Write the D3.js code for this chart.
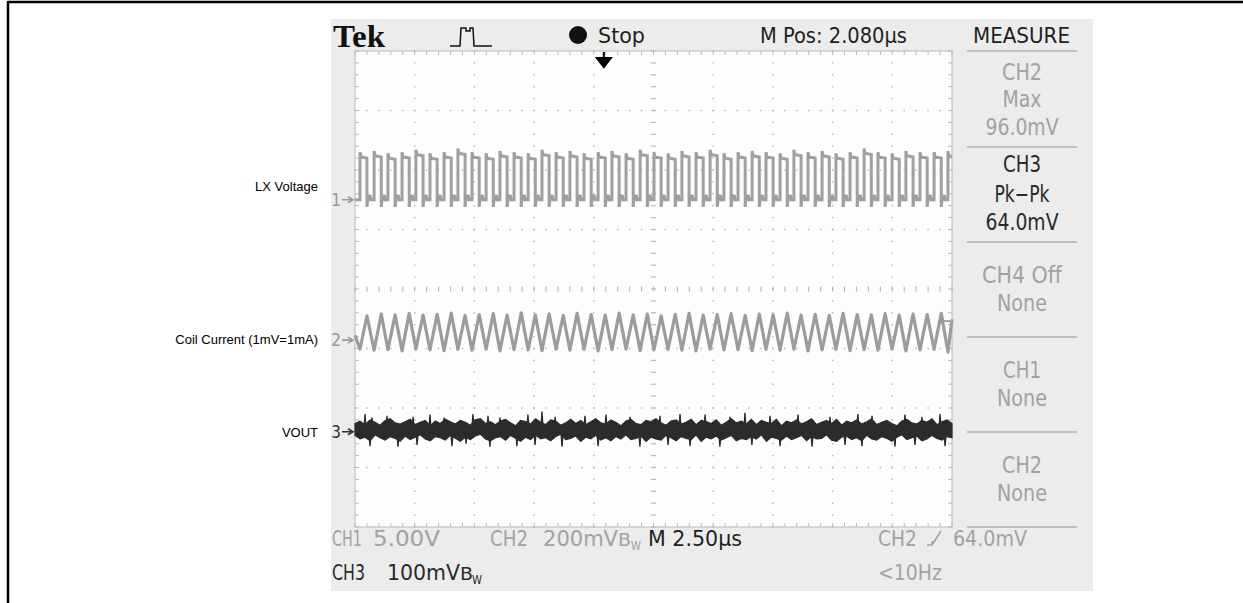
<!DOCTYPE html>
<html><head><meta charset="utf-8">
<script src="https://cdn.jsdelivr.net/npm/d3@7"></script>
<style>
html,body{margin:0;padding:0;background:#fff;}
svg{display:block;}
</style></head><body>
<svg id="c" width="1243" height="603"></svg>
<script>
// ---------------- data ----------------
const timeDomain = [0, 25];          // µs : 10 div × 2.50 µs
const divDomain = [-4, 4];           // vertical divisions
const timePerDiv = 2.5;              // µs
const mPos = 2.080;                  // µs
const channelNames = ["CH1", "CH2", "CH3"];
const channelScale = [5.0, 200, 100];      // V/div, mV/div, mV/div
const channelOffset = [1.5, -0.86, -2.4];  // div
const channelLabels = ["LX Voltage", "Coil Current (1mV=1mA)", "VOUT"];
const triggerLevel = 64.0;           // mV on CH2

// CH1 LX voltage: switching edges (µs) and plateau levels (V)
const lxRising = [0.21,0.80,1.38,1.97,2.55,3.14,3.73,4.31,4.90,5.49,6.07,6.66,7.25,7.83,8.42,9.00,9.59,10.18,10.76,11.35,11.94,12.52,13.11,13.69,14.28,14.87,15.45,16.04,16.63,17.21,17.80,18.38,18.97,19.56,20.14,20.73,21.32,21.90,22.49,23.07,23.66,24.25,24.83];
const lxFalling = [0.50,1.10,1.68,2.27,2.85,3.44,4.03,4.61,5.20,5.79,6.37,6.96,7.55,8.13,8.72,9.30,9.89,10.48,11.06,11.65,12.24,12.82,13.41,13.99,14.58,15.17,15.75,16.34,16.93,17.51,18.10,18.68,19.27,19.86,20.44,21.03,21.62,22.20,22.79,23.37,23.96,24.55,25.0];
const lxHigh = [3.6,3.7,3.5,3.6,3.8,3.5,3.6,3.9,3.6,3.5,3.7,3.6,3.5,3.8,3.6,3.7,3.5,3.6,3.7,3.5,3.8,3.6,3.5,3.7,3.6,3.8,3.5,3.6,3.7,3.6,3.5,3.8,3.6,3.7,3.5,3.6,3.9,3.6,3.5,3.7,3.6,3.6,3.7];
const lxLow = 0.0;
const lxOvershoot = 0.4;   // V above plateau
const lxUndershoot = -0.6; // V

// CH2 coil current: valleys at LX rising edges, peaks at LX falling edges (mV)
const coilValley = [-30,-34,-32,-36,-30,-33,-35,-31,-34,-30,-36,-32,-33,-35,-30,-34,-31,-36,-32,-30,-35,-33,-31,-34,-36,-30,-33,-32,-35,-31,-34,-30,-36,-33,-31,-35,-32,-34,-30,-36,-33,-31,-40];
const coilPeak = [82,88,85,90,84,87,91,83,86,89,84,92,85,88,83,90,86,84,91,85,88,82,87,90,84,86,89,83,88,85,91,84,87,83,90,86,85,89,84,88,86,90,70];

// CH3 VOUT ripple: core band upper / lower edge (mV), one value per ~0.21 µs
const voutCoreHi = [14,18,12,20,16,11,19,22,15,13, 17,21,12,16,19,10,18,14,21,17, 13,19,16,11,20,22,14,17,12,18, 21,15,10,19,17,13,22,16,12,20, 18,11,15,21,14,19,12,17,22,15, 13,20,16,10,18,21,14,12,19,17, 22,15,11,18,20,13,16,21,12,19, 17,14,20,11,16,22,15,18,13,21, 12,19,16,14,21,10,18,15,20,13, 17,22,12,16,19,14,21,11,18,15, 20,13,17,22,12,16,19,14,10,18, 21,15,13,19,16,22,12,17,20,14];
const voutCoreLo = [-6,-12,-9,-15,-5,-10,-14,-8,-11,-16, -7,-13,-9,-5,-12,-15,-8,-10,-14,-6, -11,-16,-9,-13,-7,-4,-12,-15,-10,-8, -14,-6,-11,-16,-9,-13,-5,-12,-10,-15, -8,-4,-13,-11,-7,-16,-9,-12,-6,-14, -10,-15,-8,-12,-5,-13,-11,-7,-16,-9, -12,-14,-6,-10,-15,-8,-11,-13,-5,-16, -9,-12,-7,-14,-10,-6,-15,-11,-13,-8, -12,-5,-16,-9,-11,-14,-7,-13,-10,-6, -15,-8,-12,-11,-5,-14,-16,-9,-7,-13, -10,-15,-6,-12,-14,-8,-11,-16,-9,-5, -13,-10,-7,-15,-12,-6,-11,-14,-8,-10];
// noise spikes beyond the band: time (µs), value (mV)
const spikeT = [0.42,0.71,1.34,2.43,3.14,3.73,4.94,5.57,6.07,7.24,7.83,8.38,9.63,10.51,11.52,12.77,13.61,14.66,15.70,16.33,17.38,18.55,19.89,21.06,21.65,23.03,23.74,24.50,
                0.63,1.80,2.60,4.06,4.65,5.65,6.78,7.54,8.67,10.18,11.93,13.11,14.03,15.28,16.62,17.80,19.14,20.52,21.23,22.61,23.45,24.71];
const spikeV = [30,24,27,25,29,24,30,27,24,29,34,25,27,29,25,27,30,29,25,32,27,29,25,30,27,29,25,30,
                -24,-25,-22,-24,-20,-25,-24,-22,-25,-24,-25,-22,-24,-25,-22,-24,-25,-22,-24,-25,-22,-24];

// measurement panel
const measureTitle = "MEASURE";
const measureBlocks = [
  {lines:["CH2","Max","96.0mV"], active:false},
  {lines:["CH3","Pk\u2212Pk","64.0mV"], active:true},
  {lines:["CH4 Off","None"], active:false},
  {lines:["CH1","None"], active:false},
  {lines:["CH2","None"], active:false}
];

// ---------------- drawing ----------------
const svg = d3.select("#c");
const FONT = "'DejaVu Sans Condensed','Liberation Sans Narrow','DejaVu Sans',sans-serif";
const GRAY_TXT = "#a2a2a2", DARK_TXT = "#1e1e1e";
const labelDiv = [1.71, -0.86, -2.42];   // vertical placement of side labels (div)

// page frame
svg.append("line").attr("x1",8).attr("x2",1243).attr("y1",2).attr("y2",2).attr("stroke","#000").attr("stroke-width",2.5);
svg.append("line").attr("x1",8).attr("x2",8).attr("y1",1).attr("y2",603).attr("stroke","#000").attr("stroke-width",2.5);

// scope screen background
svg.append("rect").attr("x",331).attr("y",19).attr("width",762).attr("height",572).attr("fill","#ececec");

const x = d3.scaleLinear().domain(timeDomain).range([355, 952]);
const y = d3.scaleLinear().domain(divDomain).range([527, 51]);
const yCh = (ci, v) => y(channelOffset[ci] + v / channelScale[ci]);

svg.append("rect").attr("x",x(0)).attr("y",y(4)).attr("width",x(25)-x(0)).attr("height",y(-4)-y(4)).attr("fill","#fdfdfd");

// graticule
const g = svg.append("g");
const GRID = "#b9b9b9";
const minorT = d3.range(0, 25.001, timePerDiv/5);
const minorV = d3.range(-4, 4.001, 0.2);
const majorT = d3.range(0, 25.001, timePerDiv);
const majorV = d3.range(-4, 5, 1);
majorT.slice(1,-1).forEach(t => {
  if (Math.abs(t-12.5) < 1e-6) return;
  minorV.forEach(v => g.append("rect").attr("x",x(t)-0.75).attr("y",y(v)-0.75).attr("width",1.5).attr("height",1.5).attr("fill",GRID));
});
majorV.slice(1,-1).forEach(v => {
  if (v === 0) return;
  minorT.forEach(t => g.append("rect").attr("x",x(t)-0.75).attr("y",y(v)-0.75).attr("width",1.5).attr("height",1.5).attr("fill",GRID));
});
minorT.forEach(t => g.append("line").attr("x1",x(t)).attr("x2",x(t)).attr("y1",y(0)-2.5).attr("y2",y(0)+2.5).attr("stroke",GRID).attr("stroke-width",1.2));
minorV.forEach(v => g.append("line").attr("x1",x(12.5)-2.5).attr("x2",x(12.5)+2.5).attr("y1",y(v)).attr("y2",y(v)).attr("stroke",GRID).attr("stroke-width",1.2));
g.append("rect").attr("x",x(0)).attr("y",y(4)).attr("width",x(25)-x(0)).attr("height",y(-4)-y(4)).attr("fill","none").attr("stroke",GRID).attr("stroke-width",1);
minorT.forEach(t => {
  g.append("line").attr("x1",x(t)).attr("x2",x(t)).attr("y1",y(4)).attr("y2",y(4)+4).attr("stroke",GRID);
  g.append("line").attr("x1",x(t)).attr("x2",x(t)).attr("y1",y(-4)).attr("y2",y(-4)-4).attr("stroke",GRID);
});
minorV.forEach(v => {
  g.append("line").attr("x1",x(0)).attr("x2",x(0)+4).attr("y1",y(v)).attr("y2",y(v)).attr("stroke",GRID);
  g.append("line").attr("x1",x(25)).attr("x2",x(25)-4).attr("y1",y(v)).attr("y2",y(v)).attr("stroke",GRID);
});

const line = d3.line().x(d => x(d[0])).y(d => d[1]);

// ---- CH1 trace
const lxPts = [[0, lxLow]];
lxRising.forEach((r, k) => {
  const f = lxFalling[k];
  lxPts.push([r, lxLow], [r, lxHigh[k] + lxOvershoot], [Math.min(r + 0.04, f), lxHigh[k]], [f, lxHigh[k] - 0.1]);
  if (f < 25) {
    lxPts.push([f, lxUndershoot], [f + 0.05, 0.35], [f + 0.14, 0.3], [f + 0.16, lxLow]);
  }
});
svg.append("path").attr("d", line(lxPts.map(d => [d[0], yCh(0, d[1])])))
  .attr("fill","none").attr("stroke","#a0a0a0").attr("stroke-width",3.0).attr("stroke-linejoin","miter");

// ---- CH2 trace
const coilPts = [[0, coilPeak[0] * 0.2]];
lxRising.forEach((r, k) => {
  coilPts.push([r, coilValley[k]]);
  coilPts.push([Math.min(lxFalling[k], 25), coilPeak[k]]);
});
svg.append("path").attr("d", line(coilPts.map(d => [d[0], yCh(1, d[1])])))
  .attr("fill","none").attr("stroke","#9c9c9c").attr("stroke-width",3.2).attr("stroke-linejoin","round");

// ---- CH3 trace: core band + spikes
const step = 25 / (voutCoreHi.length - 1);
const area = d3.area().x((d, j) => x(j * step)).y0((d, j) => yCh(2, voutCoreLo[j])).y1(d => yCh(2, d));
svg.append("path").attr("d", area(voutCoreHi)).attr("fill","#2b2b2b").attr("stroke","#2b2b2b").attr("stroke-width",1.2);
spikeT.forEach((t, i) => {
  const v = spikeV[i];
  const base = v > 0 ? 8 : -4;
  svg.append("path").attr("d", `M${x(t)-1},${yCh(2, base)} L${x(t)},${yCh(2, v)} L${x(t)+1},${yCh(2, base)}`)
    .attr("fill","#2b2b2b").attr("stroke","#2b2b2b").attr("stroke-width",1.3);
});

// channel ground markers and side labels
channelNames.forEach((n, ci) => {
  const yy = yCh(ci, 0);
  const col = ci === 2 ? "#333" : "#999";
  svg.append("text").attr("x",341).attr("y",yy+6).attr("text-anchor","end").attr("font-family",FONT).attr("font-size",17).attr("fill",col).text(String(ci+1));
  svg.append("path").attr("d",`M342,${yy} L352,${yy} M348,${yy-3} L353,${yy} L348,${yy+3}`).attr("stroke",col).attr("stroke-width",1.6).attr("fill","none");
  svg.append("text").attr("x",318).attr("y",y(labelDiv[ci])+4).attr("text-anchor","end").attr("font-family","'Liberation Sans',Arial,sans-serif").attr("font-size",13).attr("fill","#000").text(channelLabels[ci]);
});

// trigger level marker (right edge)
{
  const ty = yCh(1, triggerLevel);
  svg.append("path").attr("d",`M950,${ty} L940,${ty} M944,${ty-3} L939,${ty} L944,${ty+3}`).attr("stroke","#999").attr("stroke-width",1.6).attr("fill","none");
}
// trigger position arrow
{
  const tx = x(12.5 - mPos);
  svg.append("path").attr("d",`M${tx},52 L${tx},60 M${tx-7},58 L${tx+7},58 L${tx},67 Z`).attr("stroke","#000").attr("stroke-width",2).attr("fill","#000");
}

// header
svg.append("text").attr("x",333).attr("y",47).attr("font-family","'Liberation Serif','DejaVu Serif',serif").attr("font-weight","bold").attr("font-size",31).attr("textLength",52).attr("lengthAdjust","spacingAndGlyphs").attr("fill","#111").text("Tek");
svg.append("path").attr("d","M450,46 L460,46 L461,28 L466,28 L466,31 L470,31 L470,28 L473,28 L474,46 L492,46").attr("stroke","#111").attr("stroke-width",1.5).attr("fill","none");
svg.append("circle").attr("cx",578).attr("cy",35).attr("r",9).attr("fill","#111");
function txt(s, x0, yb, w, col, size, anchor) {
  const t = svg.append("text").attr("x",x0).attr("y",yb).attr("font-family",FONT).attr("font-size",size||21).attr("fill",col).text(s);
  if (anchor) t.attr("text-anchor",anchor);
  if (w) t.attr("textLength",w).attr("lengthAdjust","spacingAndGlyphs");
  return t;
}
txt("Stop", 598, 43, 47, DARK_TXT, 22);
txt("M Pos: 2.080\u00b5s", 760, 43, 147, DARK_TXT, 22);
txt(measureTitle, 973, 43, 97, DARK_TXT, 22);

// measure panel
const sepYs = [51, 147, 242, 337, 432, 527];
sepYs.forEach(sy => svg.append("line").attr("x1",967).attr("x2",1077).attr("y1",sy).attr("y2",sy).attr("stroke","#b0b0b0").attr("stroke-width",1.5));
const blockBaselines = [[80,107,135],[172,202,230],[283,311],[378,406],[473,501]];
const blockWidths = [[40,39,73],[38,55,73],[80,50],[38,50],[40,50]];
measureBlocks.forEach((b, i) => {
  b.lines.forEach((s, j) => {
    txt(s, 1022 - blockWidths[i][j]/2, blockBaselines[i][j], blockWidths[i][j], b.active ? "#2a2a2a" : GRAY_TXT, 23);
  });
});

// bottom readouts
txt("CH1", 332, 546, 30, GRAY_TXT, 22);
txt("5.00V", 373, 546, 67, GRAY_TXT, 22);
txt("CH2", 490, 546, 38, GRAY_TXT, 22);
txt("200mV", 543, 546, 75, GRAY_TXT, 22);
txt("B", 618, 546, 13, GRAY_TXT, 18);
txt("W", 631, 550, 10, GRAY_TXT, 13);
txt("M 2.50\u00b5s", 648, 546, 94, DARK_TXT, 22);
txt("CH2", 878, 546, 39, GRAY_TXT, 22);
svg.append("path").attr("d","M927,545 L932,545 L932,541 M932,545 L941,531").attr("stroke",GRAY_TXT).attr("stroke-width",1.6).attr("fill","none");
txt("64.0mV", 953, 546, 74, GRAY_TXT, 22);
txt("CH3", 332, 580, 33, "#2a2a2a", 22);
txt("100mV", 387, 580, 73, "#2a2a2a", 22);
txt("B", 460, 580, 13, "#2a2a2a", 18);
txt("W", 472, 584, 10, "#2a2a2a", 13);
txt("<10Hz", 878, 580, 64, GRAY_TXT, 22);
</script>
</body></html>
